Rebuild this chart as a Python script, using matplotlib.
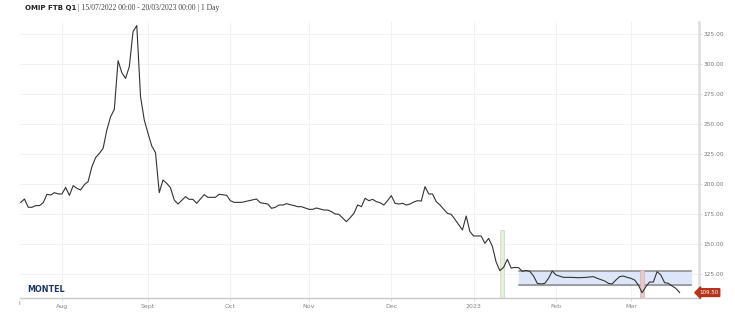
import numpy as np
import matplotlib.pyplot as plt
from matplotlib.transforms import Bbox, TransformedBbox

# OMIP FTB Q1 daily settlement, 15/07/2022 - 20/03/2023 (trading days)
dates = ['2022-07-15', '2022-07-18', '2022-07-19', '2022-07-20', '2022-07-21', '2022-07-22',
         '2022-07-25', '2022-07-26', '2022-07-27', '2022-07-28', '2022-07-29',
         '2022-08-01', '2022-08-02', '2022-08-03', '2022-08-04', '2022-08-05',
         '2022-08-08', '2022-08-09', '2022-08-10', '2022-08-11', '2022-08-12',
         '2022-08-15', '2022-08-16', '2022-08-17', '2022-08-18', '2022-08-19',
         '2022-08-22', '2022-08-23', '2022-08-24', '2022-08-25', '2022-08-26',
         '2022-08-29', '2022-08-30', '2022-08-31', '2022-09-01', '2022-09-02',
         '2022-09-05', '2022-09-06', '2022-09-07', '2022-09-08', '2022-09-09',
         '2022-09-12', '2022-09-13', '2022-09-15', '2022-09-16',
         '2022-09-19', '2022-09-20', '2022-09-22', '2022-09-23',
         '2022-09-27', '2022-09-28', '2022-09-30',
         '2022-10-03', '2022-10-04', '2022-10-06', '2022-10-10', '2022-10-12', '2022-10-13',
         '2022-10-17', '2022-10-18', '2022-10-19', '2022-10-20', '2022-10-21',
         '2022-10-24', '2022-10-26', '2022-10-27', '2022-10-28',
         '2022-11-01', '2022-11-02', '2022-11-03', '2022-11-07', '2022-11-08', '2022-11-09',
         '2022-11-10', '2022-11-11', '2022-11-15', '2022-11-16', '2022-11-17', '2022-11-18',
         '2022-11-21', '2022-11-22', '2022-11-23', '2022-11-24', '2022-11-25',
         '2022-11-28', '2022-11-29', '2022-11-30', '2022-12-01', '2022-12-02',
         '2022-12-05', '2022-12-06', '2022-12-07', '2022-12-08', '2022-12-09',
         '2022-12-12', '2022-12-13', '2022-12-14', '2022-12-15', '2022-12-16',
         '2022-12-19', '2022-12-20', '2022-12-21', '2022-12-22', '2022-12-23',
         '2022-12-26', '2022-12-28', '2022-12-29', '2022-12-30',
         '2023-01-02', '2023-01-04', '2023-01-05', '2023-01-06',
         '2023-01-09', '2023-01-10', '2023-01-11', '2023-01-12', '2023-01-13',
         '2023-01-16', '2023-01-17', '2023-01-18', '2023-01-19', '2023-01-20',
         '2023-01-23', '2023-01-24', '2023-01-25', '2023-01-26', '2023-01-27',
         '2023-01-30', '2023-01-31', '2023-02-01', '2023-02-03', '2023-02-07', '2023-02-09',
         '2023-02-13', '2023-02-15', '2023-02-16', '2023-02-20', '2023-02-21', '2023-02-22',
         '2023-02-23', '2023-02-24', '2023-02-27', '2023-02-28',
         '2023-03-01', '2023-03-02', '2023-03-03', '2023-03-06', '2023-03-07', '2023-03-08',
         '2023-03-09', '2023-03-10', '2023-03-13', '2023-03-14', '2023-03-15', '2023-03-16',
         '2023-03-17', '2023-03-20']
prices = [184.7, 187.5, 180.6, 180.6, 182.0, 182.0,
          184.4, 191.4, 190.8, 192.8, 191.7,
          191.7, 197.2, 190.5, 198.6, 196.4,
          195.0, 199.5, 202.0, 214.4, 222.0,
          225.5, 229.7, 245.0, 256.0, 262.2,
          302.8, 292.8, 288.0, 297.8, 327.0,
          332.0, 272.8, 253.3, 242.2, 231.7,
          226.1, 192.8, 203.3, 200.5, 197.0,
          186.7, 183.3, 189.4, 187.2,
          187.2, 183.9, 191.1, 188.9,
          188.9, 191.4, 190.6,
          186.1, 184.7, 184.7, 186.1, 187.5, 184.4,
          183.3, 179.7, 180.6, 182.5, 182.5,
          183.6, 182.0, 181.1, 181.1,
          178.9, 178.9, 180.0, 178.3, 178.3, 177.0,
          175.0, 174.7, 168.6, 171.9, 175.5, 182.5,
          181.1, 188.1, 186.1, 187.2, 185.3,
          184.4, 182.5, 186.1, 190.3, 183.9,
          183.3, 183.9, 182.5, 183.3, 185.0,
          186.1, 185.8, 197.8, 191.7, 191.7,
          185.3, 182.5, 178.9, 175.5, 174.7,
          170.5, 161.7, 173.3, 160.3,
          156.7, 156.7, 150.6, 154.7,
          148.0, 135.0, 127.8, 130.6, 137.2,
          130.0, 130.5, 130.3, 127.2, 128.0,
          127.2, 123.3, 117.2, 116.7, 117.2,
          121.4, 127.5, 124.2, 122.2, 122.2, 121.9,
          122.2, 122.8, 121.4, 119.2, 117.2, 116.7,
          120.0, 122.8, 123.3, 122.2,
          121.4, 120.0, 115.8, 109.4, 114.4, 118.3,
          118.3, 126.9, 124.2, 117.8, 117.2, 115.0,
          113.1, 109.5]

month_starts = ['2022-08-01', '2022-09-01', '2022-10-01', '2022-11-01', '2022-12-01',
                '2023-01-01', '2023-02-01', '2023-03-01']
month_labels = ['Aug', 'Sept', 'Oct', 'Nov', 'Dec', '2023', 'Feb', 'Mar']
yticks = [125, 150, 175, 200, 225, 250, 275, 300, 325]

# range band and event markers
band_start, band_end = '2023-01-18', '2023-03-23'
band_low, band_high = 115.8, 127.7
green_day, green_top = '2023-01-11', 162.0
red_day, red_top = '2023-03-06', 128.3

start = '2022-07-15'
def bpos(d):
    d = np.busday_offset(np.datetime64(d), 0, roll='forward')
    return np.busday_count(start, d)

x = np.array([bpos(d) for d in dates])
y = np.array(prices)

fig = plt.figure(figsize=(7.35, 3.16), dpi=100)
ax = fig.add_axes([20/735, 18/316, 679/735, 276/316])

ax.set_xlim(-0.2, 181.2)
ax.set_ylim(105, 335)

grid_c = '#efefef'
for t in yticks:
    ax.axhline(t, color=grid_c, lw=0.6, zorder=0)
mpos = [bpos(m) for m in month_starts]
for p in mpos:
    ax.axvline(p, color=grid_c, lw=0.6, zorder=0)

# range band
b0, b1 = bpos(band_start), bpos(band_end)
ax.fill_between([b0, b1], band_low, band_high, color='#dde6f8', zorder=1)
ax.plot([b0, b1], [band_high, band_high], color='#888888', lw=1.1, zorder=2)
ax.plot([b0, b1], [band_low, band_low], color='#888888', lw=1.1, zorder=2)

g = bpos(green_day)
ax.fill_between([g, g + 1.1], 105, green_top, color='#e4efdd', edgecolor='#c5d9bb', lw=0.5, zorder=1)
r = bpos(red_day)
ax.fill_between([r - 0.5, r + 0.4], 105, red_top, color='#e8c8cc', edgecolor='#dcaeb3', lw=0.5, zorder=2)

ax.plot(x, y, color='#333333', lw=0.8, zorder=3)

# axes styling
for s in ['top', 'left']:
    ax.spines[s].set_visible(False)
ax.spines['right'].set_color('#dddddd')
ax.spines['right'].set_linewidth(1.8)
ax.spines['bottom'].set_color('#c8c8c8')
ax.spines['bottom'].set_linewidth(1.0)

ax.yaxis.tick_right()
ax.set_yticks(yticks)
ax.set_yticklabels(['%.2f' % t for t in yticks])
ax.tick_params(axis='y', length=2.5, width=0.5, color='#cccccc', labelsize=4.2,
               labelcolor='#777777', pad=1)
ax.set_xticks(mpos)
ax.set_xticklabels(month_labels)
ax.tick_params(axis='x', length=2, width=0.5, color='#cccccc', labelsize=4.5,
               labelcolor='#888888', pad=2)

# clipped 'Jul' label at the left edge
jul = ax.text(-1.0, -0.012, 'Jul', transform=ax.get_xaxis_transform(),
              ha='center', va='top', fontsize=4.5, color='#888888')
jul.set_clip_box(TransformedBbox(Bbox([[19/735, 0], [1, 1]]), fig.transFigure))
jul.set_clip_on(True)

# last value tag
ax.annotate('%.2f' % prices[-1], xy=(1.0, prices[-1]), xycoords=('axes fraction', 'data'),
            xytext=(7, 0), textcoords='offset points', ha='center', va='center',
            fontsize=4.0, color='white', annotation_clip=False,
            bbox=dict(boxstyle='larrow,pad=0.25', fc='#b8321c', ec='#b8321c'))

ax.text(0.011, 0.015, 'MONTEL', transform=ax.transAxes, fontsize=5.8, fontweight='bold',
        color='#1f3566', ha='left', va='bottom')

t1 = fig.text(25/735, 1 - 8/316, 'OMIP FTB Q1', fontsize=5.0, fontweight='bold',
              color='#222222', ha='left', va='center')
fig.canvas.draw()
ext = t1.get_window_extent()
fig.text((ext.x1 + 2) / 735, 1 - 8/316, '| 15/07/2022 00:00 - 20/03/2023 00:00 | 1 Day',
         fontsize=5.5, family='Liberation Serif', color='#444444', ha='left', va='center')

plt.savefig('out.png', dpi=100)
